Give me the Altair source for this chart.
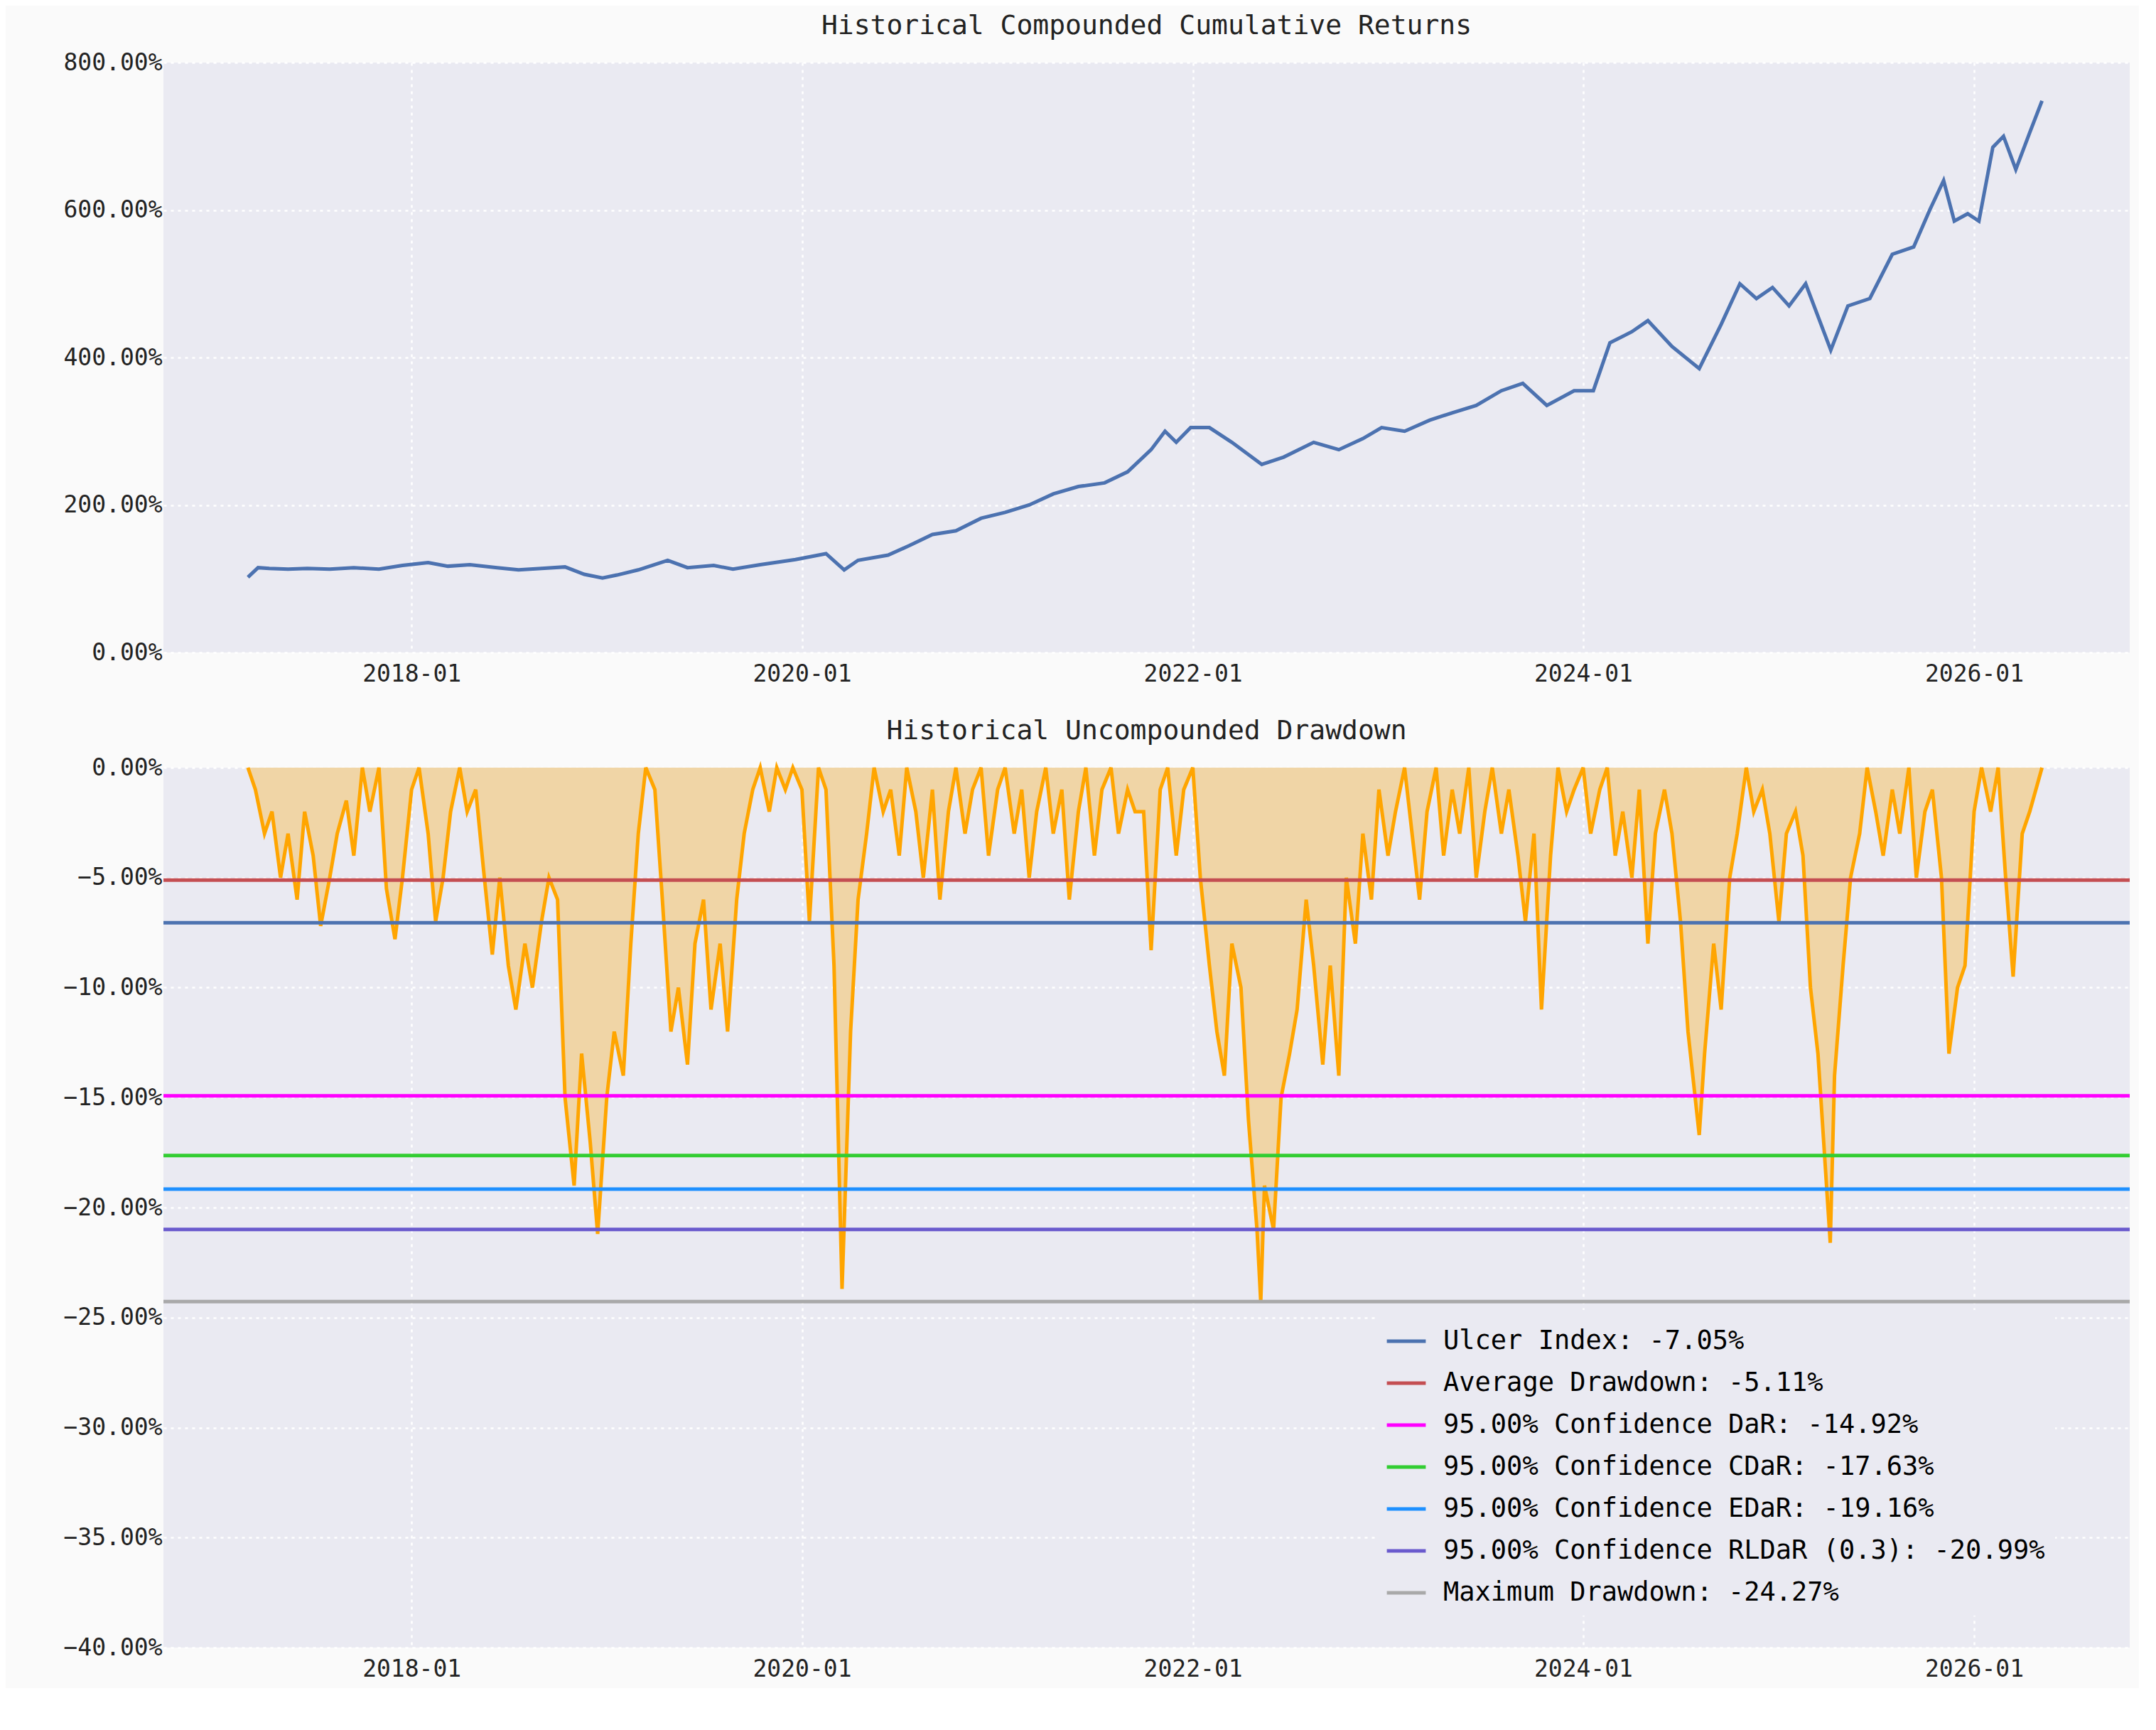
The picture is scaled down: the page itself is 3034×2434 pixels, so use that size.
import pandas as pd
import altair as alt

FONT = 'DejaVu Sans Mono'

# cumulative compounded returns (fraction)
cum_dates = ['2017-03-01','2017-03-20','2017-04-10','2017-05-15','2017-06-20','2017-08-01','2017-09-15','2017-11-01',
             '2017-12-15','2018-02-01','2018-03-10','2018-04-20','2018-06-10','2018-07-20','2018-09-01','2018-10-15',
             '2018-11-20','2018-12-24','2019-01-20','2019-03-01','2019-04-25','2019-06-01','2019-07-20','2019-08-25',
             '2019-10-15','2019-12-20','2020-02-15','2020-03-20','2020-04-15','2020-06-10','2020-07-20','2020-09-01',
             '2020-10-15','2020-12-01','2021-01-15','2021-03-01','2021-04-15','2021-06-01','2021-07-20','2021-09-01',
             '2021-10-15','2021-11-10','2021-12-01','2021-12-28','2022-02-01','2022-03-15','2022-05-10','2022-06-20',
             '2022-08-15','2022-10-01','2022-11-15','2022-12-20','2023-02-01','2023-03-20','2023-05-01','2023-06-15',
             '2023-08-01','2023-09-10','2023-10-25','2023-12-15','2024-01-20','2024-02-20','2024-04-01','2024-05-01',
             '2024-06-15','2024-08-05','2024-09-15','2024-10-20','2024-11-20','2024-12-20','2025-01-20','2025-02-20',
             '2025-04-08','2025-05-10','2025-06-20','2025-08-01','2025-09-10','2025-10-10','2025-11-05','2025-11-25',
             '2025-12-20','2026-01-10','2026-02-05','2026-02-25','2026-03-20','2026-04-15','2026-05-08']
cum_vals = [1.02,1.15,1.14,1.13,1.14,1.13,1.15,1.13,1.18,1.22,1.17,1.19,1.15,1.12,1.14,1.16,
            1.06,1.01,1.05,1.12,1.25,1.15,1.18,1.13,1.19,1.26,1.34,1.12,1.25,1.32,1.45,1.60,
            1.65,1.82,1.90,2.00,2.15,2.25,2.30,2.45,2.75,3.00,2.85,3.05,3.05,2.85,2.55,2.65,
            2.85,2.75,2.90,3.05,3.00,3.15,3.25,3.35,3.55,3.65,3.35,3.55,3.55,4.20,4.35,4.50,
            4.15,3.85,4.45,5.00,4.80,4.95,4.70,5.00,4.10,4.70,4.80,5.40,5.50,6.00,6.40,5.85,
            5.95,5.85,6.85,7.00,6.55,7.05,7.48]

# uncompounded drawdown (percent)
dd_dates = ['2017-03-01','2017-03-15','2017-04-01','2017-04-15','2017-05-01','2017-05-15','2017-06-01','2017-06-15',
            '2017-07-01','2017-07-15','2017-08-01','2017-08-15','2017-09-01','2017-09-15','2017-10-01','2017-10-15',
            '2017-11-01','2017-11-15','2017-12-01','2017-12-15','2018-01-01','2018-01-15','2018-02-01','2018-02-15',
            '2018-03-01','2018-03-15','2018-04-01','2018-04-15','2018-05-01','2018-05-15','2018-06-01','2018-06-15',
            '2018-07-01','2018-07-15','2018-08-01','2018-08-15','2018-09-01','2018-09-15','2018-10-01','2018-10-15',
            '2018-11-01','2018-11-15','2018-12-01','2018-12-15','2019-01-01','2019-01-15','2019-02-01','2019-02-15',
            '2019-03-01','2019-03-15','2019-04-01','2019-04-15','2019-05-01','2019-05-15','2019-06-01','2019-06-15',
            '2019-07-01','2019-07-15','2019-08-01','2019-08-15','2019-09-01','2019-09-15','2019-10-01','2019-10-15',
            '2019-11-01','2019-11-15','2019-12-01','2019-12-15','2020-01-01','2020-01-15','2020-02-01','2020-02-15',
            '2020-03-01','2020-03-16','2020-04-01','2020-04-15','2020-05-01','2020-05-15','2020-06-01','2020-06-15',
            '2020-07-01','2020-07-15','2020-08-01','2020-08-15','2020-09-01','2020-09-15','2020-10-01','2020-10-15',
            '2020-11-01','2020-11-15','2020-12-01','2020-12-15','2021-01-01','2021-01-15','2021-02-01','2021-02-15',
            '2021-03-01','2021-03-15','2021-04-01','2021-04-15','2021-05-01','2021-05-15','2021-06-01','2021-06-15',
            '2021-07-01','2021-07-15','2021-08-01','2021-08-15','2021-09-01','2021-09-15','2021-10-01','2021-10-15',
            '2021-11-01','2021-11-15','2021-12-01','2021-12-15','2022-01-01','2022-01-15','2022-02-01','2022-02-15',
            '2022-03-01','2022-03-15','2022-04-01','2022-04-15','2022-05-01','2022-05-08','2022-05-15','2022-06-01',
            '2022-06-15','2022-07-01','2022-07-15','2022-08-01','2022-08-15','2022-09-01','2022-09-15','2022-10-01',
            '2022-10-15','2022-11-01','2022-11-15','2022-12-01','2022-12-15','2023-01-01','2023-01-15','2023-02-01',
            '2023-02-15','2023-03-01','2023-03-15','2023-04-01','2023-04-15','2023-05-01','2023-05-15','2023-06-01',
            '2023-06-15','2023-07-01','2023-07-15','2023-08-01','2023-08-15','2023-09-01','2023-09-15','2023-10-01',
            '2023-10-15','2023-11-01','2023-11-15','2023-12-01','2023-12-15','2024-01-01','2024-01-15','2024-02-01',
            '2024-02-15','2024-03-01','2024-03-15','2024-04-01','2024-04-15','2024-05-01','2024-05-15','2024-06-01',
            '2024-06-15','2024-07-01','2024-07-15','2024-08-05','2024-08-15','2024-09-01','2024-09-15','2024-10-01',
            '2024-10-15','2024-11-01','2024-11-15','2024-12-01','2024-12-15','2025-01-01','2025-01-15','2025-02-01',
            '2025-02-15','2025-03-01','2025-03-15','2025-04-07','2025-04-15','2025-05-01','2025-05-15','2025-06-01',
            '2025-06-15','2025-07-01','2025-07-15','2025-08-01','2025-08-15','2025-09-01','2025-09-15','2025-10-01',
            '2025-10-15','2025-11-01','2025-11-15','2025-12-01','2025-12-15','2026-01-01','2026-01-15','2026-02-01',
            '2026-02-15','2026-03-01','2026-03-15','2026-04-01','2026-04-15','2026-05-08']
dd_vals = [0,-1,-3,-2,-5,-3,-6,-2,-4,-7.2,-5,-3,-1.5,-4,0,-2,
           0,-5.5,-7.8,-5,-1,0,-3,-7,-5,-2,0,-2,-1,-4.5,-8.5,-5,
           -9,-11,-8,-10,-7,-5,-6,-15,-19,-13,-17,-21.2,-15,-12,-14,-8,
           -3,0,-1,-6,-12,-10,-13.5,-8,-6,-11,-8,-12,-6,-3,-1,0,
           -2,0,-1,0,-1,-7,0,-1,-9,-23.7,-12,-6,-3,0,-2,-1,
           -4,0,-2,-5,-1,-6,-2,0,-3,-1,0,-4,-1,0,-3,-1,
           -5,-2,0,-3,-1,-6,-2,0,-4,-1,0,-3,-1,-2,-2,-8.3,
           -1,0,-4,-1,0,-5,-9,-12,-14,-8,-10,-16,-21,-24.27,-19,-21,
           -15,-13,-11,-6,-9,-13.5,-9,-14,-5,-8,-3,-6,-1,-4,-2,0,
           -3,-6,-2,0,-4,-1,-3,0,-5,-2,0,-3,-1,-4,-7,-3,
           -11,-4,0,-2,-1,0,-3,-1,0,-4,-2,-5,-1,-8,-3,-1,
           -3,-7,-12,-16.7,-13,-8,-11,-5,-3,0,-2,-1,-3,-7,-3,-2,
           -4,-10,-13,-21.6,-14,-9,-5,-3,0,-2,-4,-1,-3,0,-5,-2,
           -1,-5,-13,-10,-9,-2,0,-2,0,-5,-9.5,-3,-2,0]

risk_labels = ['Ulcer Index: -7.05%', 'Average Drawdown: -5.11%', '95.00% Confidence DaR: -14.92%',
               '95.00% Confidence CDaR: -17.63%', '95.00% Confidence EDaR: -19.16%',
               '95.00% Confidence RLDaR (0.3): -20.99%', 'Maximum Drawdown: -24.27%']
risk_vals = [-0.0705, -0.0511, -0.1492, -0.1763, -0.1916, -0.2099, -0.2427]
risk_colors = ['#4c72b0', '#c44e52', '#ff00ff', '#32cd32', '#1e90ff', '#6a5acd', '#a9a9a9']

cum = pd.DataFrame({'date': pd.to_datetime(cum_dates), 'ret': cum_vals})
dd = pd.DataFrame({'date': pd.to_datetime(dd_dates), 'dd': [v / 100 for v in dd_vals]})
risk = pd.DataFrame({'label': risk_labels, 'value': risk_vals})

xdom = [alt.DateTime(year=2016, month=9, date=24), alt.DateTime(year=2026, month=10, date=19)]
xticks = [alt.DateTime(year=y, month=1, date=1) for y in range(2018, 2027, 2)]
xaxis = alt.Axis(values=xticks, format='%Y-%m', title=None, labelPadding=14)
x = alt.X('date:T', scale=alt.Scale(domain=xdom), axis=xaxis)

W = 2767
top = alt.Chart(cum).mark_line(color='#4c72b0', strokeWidth=5).encode(
    x=x,
    y=alt.Y('ret:Q', scale=alt.Scale(domain=[0, 8]), axis=alt.Axis(format='.2%', values=[0, 2, 4, 6, 8], title=None)),
).properties(width=W, height=830, title='Historical Compounded Cumulative Returns')

area = alt.Chart(dd).mark_area(color='#f0d5a6', opacity=1).encode(
    x=x,
    y=alt.Y('dd:Q', scale=alt.Scale(domain=[-0.4, 0]),
            axis=alt.Axis(format='.2%', values=[-0.4 + 0.05 * i for i in range(9)], title=None)),
    y2=alt.datum(0),
)
ddline = alt.Chart(dd).mark_line(color='#ffa500', strokeWidth=5).encode(x=x, y='dd:Q')
rules = alt.Chart(risk).mark_rule(strokeWidth=5).encode(
    y='value:Q',
    color=alt.Color('label:N', scale=alt.Scale(domain=risk_labels, range=risk_colors), sort=risk_labels,
                    legend=alt.Legend(title=None, orient='none', legendX=1705, legendY=1755,
                                      symbolType='stroke', symbolStrokeWidth=5, symbolSize=3000,
                                      labelFontSize=37, labelFont=FONT, rowPadding=11, padding=14,
                                      labelOffset=22, fillColor='#eaeaf2', labelLimit=1200)),
)
bottom = (area + ddline + rules).properties(width=W, height=1238, title='Historical Uncompounded Drawdown')

chart = alt.vconcat(top, bottom, spacing=45).properties(
    padding={'left': 80, 'top': 10, 'right': 10, 'bottom': 10}
).configure(
    background='#fafafa', font=FONT
).configure_view(fill='#eaeaf2', stroke=None).configure_axis(
    labelFontSize=33, labelFont=FONT, labelColor='#222222', domain=False, ticks=False,
    grid=True, gridColor='white', gridDash=[4, 6], gridWidth=2.5
).configure_title(fontSize=38, font=FONT, fontWeight='normal', color='#222222', offset=16)

chart.save('out.html', embed_options={'renderer': 'svg', 'actions': False})
